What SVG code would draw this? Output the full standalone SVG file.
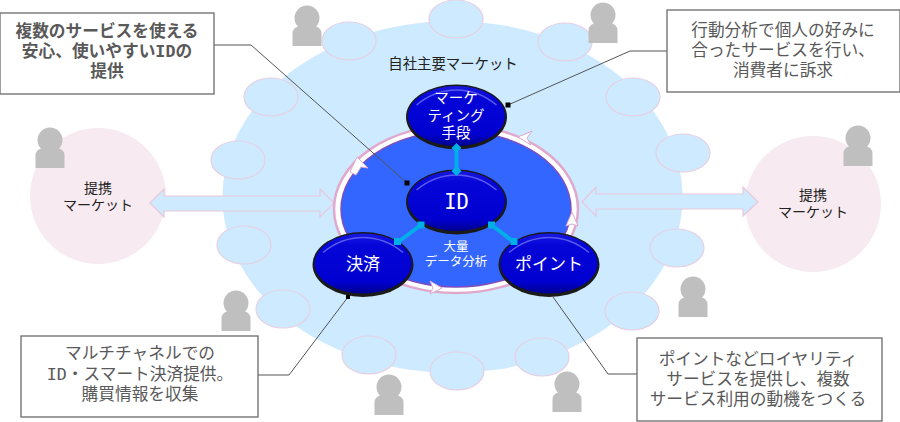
<svg xmlns="http://www.w3.org/2000/svg" width="900" height="422" viewBox="0 0 900 422">
<defs>
<style>
.j{font-family:"Liberation Sans","Noto Sans CJK JP",sans-serif;text-anchor:middle}
.m{font-family:"DejaVu Sans Mono",monospace}
.box{fill:#fff;stroke:#6b6b6b;stroke-width:1.3}
.bt{font-size:16.7px;fill:#595959}
.sm{fill:#cdeaff;stroke:#e6d0e2;stroke-width:1.2}
.pt{fill:#f7eaf0}
.n{fill:url(#g)}
.sh{fill:#1a1a1a}
.hl{fill:none;stroke:#5a5af0;stroke-width:1.5}
.w{fill:#fff}
.lb{fill:#222;font-size:14px}
.nt{fill:#fff;font-size:14.5px}
.ld{fill:none;stroke:#555;stroke-width:1}
.cn{fill:none;stroke:#00aee8;stroke-width:4}
.dbl{fill:#cdeaff;stroke:#e8c8dc;stroke-width:1.2}
.ah{fill:#fff;stroke:#e0a8cc;stroke-width:1}
.k{fill:#000}
.p{fill:#bfbfbf}
</style>
<linearGradient id="g" x1="0" y1="0" x2="0" y2="1">
<stop offset="0" stop-color="#1818e0"/><stop offset=".2" stop-color="#0505d8"/><stop offset=".8" stop-color="#0000d0"/><stop offset="1" stop-color="#000090"/>
</linearGradient>
<g id="person"><circle cx="0" cy="-28" r="12.500" class="p"/><path d="M-14.500 0V-12Q-14.500-20-5-20H5Q14.500-20 14.500-12V0Z" class="p"/></g>
<g id="node"><ellipse class="sh" cx="0" cy="0" rx="50.500" ry="32.500"/><ellipse class="n" cx="0" cy="-1" rx="48.500" ry="30"/><path class="hl" d="M-40-12Q-22-27 0-27T40-12"/></g>
</defs>
<rect width="900" height="422" fill="#fff"/>
<g id="market-left"><circle cx="98" cy="196" r="68" class="pt"/><text class="j lb" x="98" y="193">提携</text><text class="j lb" x="98" y="210">マーケット</text></g>
<g id="market-right"><circle cx="813" cy="204" r="68" class="pt"/><text class="j lb" x="813" y="200">提携</text><text class="j lb" x="813" y="217">マーケット</text></g>
<g id="own-market"><ellipse cx="452.500" cy="197" rx="230" ry="176" fill="#cdeaff"/><text class="j" font-size="14.400" fill="#222" x="453" y="69">自社主要マーケット</text></g>
<g id="customers">
<ellipse class="sm" cx="456" cy="19" rx="27" ry="19"/><ellipse class="sm" cx="349" cy="41" rx="27" ry="19"/><ellipse class="sm" cx="565" cy="42" rx="27" ry="19"/><ellipse class="sm" cx="271" cy="97" rx="27" ry="19"/><ellipse class="sm" cx="238" cy="160" rx="27" ry="19"/><ellipse class="sm" cx="244" cy="245" rx="27" ry="19"/><ellipse class="sm" cx="283" cy="309" rx="27" ry="19"/><ellipse class="sm" cx="369" cy="355" rx="27" ry="19"/><ellipse class="sm" cx="457" cy="371" rx="27" ry="19"/><ellipse class="sm" cx="542" cy="357" rx="27" ry="19"/><ellipse class="sm" cx="632" cy="311" rx="27" ry="19"/><ellipse class="sm" cx="677" cy="248" rx="27" ry="19"/><ellipse class="sm" cx="683" cy="153" rx="27" ry="19"/><ellipse class="sm" cx="633" cy="97" rx="27" ry="19"/>
</g>
<g id="people">
<use href="#person" x="307" y="46"/><use href="#person" x="603" y="43"/><use href="#person" x="50" y="168"/><use href="#person" x="858" y="166"/><use href="#person" x="236" y="331"/><use href="#person" x="389" y="415"/><use href="#person" x="567" y="412"/><use href="#person" x="693" y="317"/>
</g>
<g id="arrows">
<path class="dbl" d="M150 203L164 189V196H320V189L334 203L320 217V211H164V217Z"/>
<path class="dbl" d="M582 202L596 187V194H743V187L758 202L743 216V209H596V216Z"/>
</g>
<g id="core"><ellipse cx="456" cy="209" rx="122" ry="84" fill="#fff" stroke="#e0a8cc" stroke-width="2.500"/><ellipse cx="456" cy="209" rx="115" ry="78" fill="#3366ff" stroke="#7a4fc0" stroke-width="1.500"/>
<path class="ah" d="M350 172L357 157L368 168L361 167L356 175Z"/><path class="ah" d="M532 131L518 137L531 145L527 138Z"/><path class="ah" d="M566 226L572 212L578 226L572 224Z"/><path class="ah" d="M430 281L442 288L430 294L433 288Z"/>
<text class="j w" font-size="12.500" x="456" y="251">大量</text><text class="j w" font-size="12.500" x="456" y="266">データ分析</text></g>
<g id="marketing"><use href="#node" x="456.500" y="117"/><text class="j nt" x="456" y="103">マーケ</text><text class="j nt" x="456" y="121">ティング</text><text class="j nt" x="456" y="138">手段</text></g>
<g id="id"><use href="#node" x="456.500" y="202"/><text class="m w" text-anchor="middle" font-size="20.500" x="456.500" y="209">ID</text></g>
<g id="settlement"><use href="#node" x="363" y="264.500"/><text class="j w" font-size="17" x="363" y="270">決済</text></g>
<g id="point"><use href="#node" x="549" y="264.500"/><text class="j w" font-size="17" x="549" y="270">ポイント</text></g>
<g id="connectors">
<path class="cn" d="M456.500 148V171"/><path class="cn" d="M421 225L398 242"/><path class="cn" d="M491.500 225L514 242"/>
<path fill="#00aee8" d="M456.500 143l5 5-5 5-5-5zM456.500 166l5 5-5 5-5-5zM417.500 221.500h7v7h-7zM394 238h7v7h-7zM488 221.500h7v7h-7zM510.500 238h7v7h-7z"/>
<path class="ld" d="M214 45H251L407 183"/><path class="ld" d="M667 51H630L508 105"/><path class="ld" d="M258 375H289L348 297"/><path class="ld" d="M637 374H608L553 297"/>
<path class="k" d="M404.500 180.500h5v5h-5zM505.500 102.500h5v5h-5zM346 295h4v4h-4z"/>
</g>
<g id="note-id"><rect class="box" x="0" y="13" width="214" height="81"/><text class="j bt" font-weight="bold" x="107" y="37">複数のサービスを使える</text><text class="j bt" font-weight="bold" x="107" y="57">安心、使いやすい<tspan class="m">ID</tspan>の</text><text class="j bt" font-weight="bold" x="107" y="77">提供</text></g>
<g id="note-marketing"><rect class="box" x="667" y="10" width="233" height="82"/><text class="j bt" x="783" y="36">行動分析で個人の好みに</text><text class="j bt" x="783" y="56">合ったサービスを行い、</text><text class="j bt" x="783" y="76">消費者に訴求</text></g>
<g id="note-settlement"><rect class="box" x="21" y="336" width="237" height="81"/><text class="j bt" x="140" y="359">マルチチャネルでの</text><text class="j bt" x="140" y="380"><tspan class="m">ID</tspan>・スマート決済提供。</text><text class="j bt" x="140" y="400">購買情報を収集</text></g>
<g id="note-point"><rect class="box" x="637" y="338" width="245" height="83"/><text class="j bt" x="758" y="365">ポイントなどロイヤリティ</text><text class="j bt" x="758" y="385">サービスを提供し、複数</text><text class="j bt" x="758" y="405">サービス利用の動機をつくる</text></g>
</svg>
